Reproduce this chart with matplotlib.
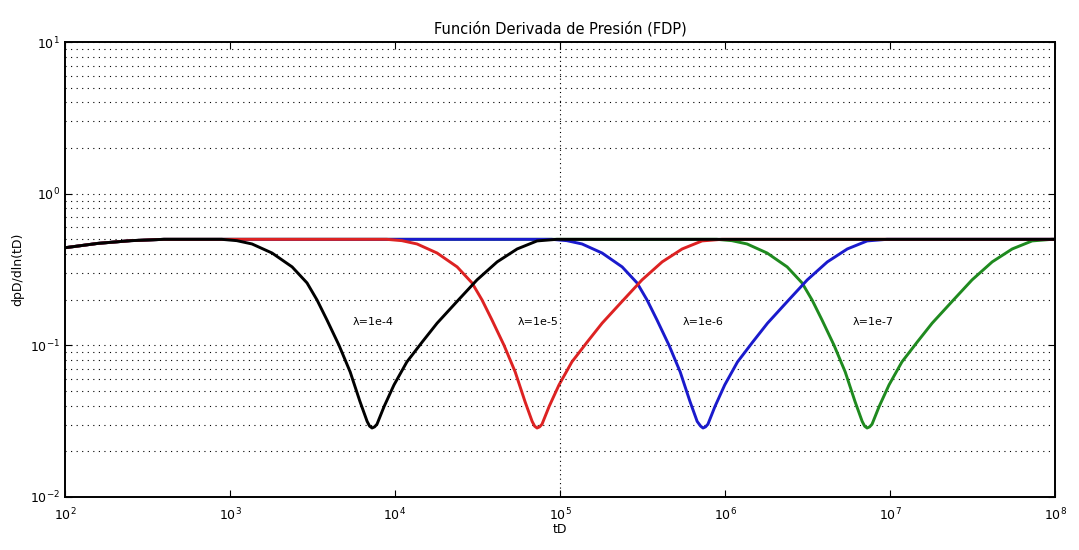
import numpy as np
import matplotlib
matplotlib.use('Agg')
import matplotlib.pyplot as plt


# values (tD, dpD/dln(tD)), one list pair per curve
td_black = [1.00e2, 1.58e2, 2.51e2, 3.98e2, 6.76e2, 8.91e2, 1.10e3, 1.36e3, 1.80e3, 2.38e3,
            2.93e3, 3.37e3, 3.87e3, 4.58e3, 5.35e3, 6.14e3, 6.78e3, 7.02e3, 7.26e3, 7.52e3,
            7.78e3, 8.59e3, 9.86e3, 1.18e4, 1.46e4, 1.80e4, 2.38e4, 3.14e4, 4.16e4, 5.50e4,
            7.26e4, 9.57e4, 1.0e8]
dp_black = [0.44, 0.47, 0.49, 0.50, 0.50, 0.50, 0.49, 0.466, 0.406, 0.329,
            0.258, 0.199, 0.147, 0.100, 0.0668, 0.0425, 0.0315, 0.0293, 0.0285, 0.0290,
            0.0302, 0.0395, 0.0548, 0.0777, 0.105, 0.140, 0.195, 0.270, 0.355, 0.432,
            0.488, 0.50, 0.50]

td_red = [1.00e2, 1.58e2, 2.51e2, 3.98e2, 6.76e3, 8.91e3, 1.10e4, 1.36e4, 1.80e4, 2.38e4,
          2.93e4, 3.37e4, 3.87e4, 4.58e4, 5.35e4, 6.14e4, 6.78e4, 7.02e4, 7.26e4, 7.52e4,
          7.78e4, 8.59e4, 9.86e4, 1.18e5, 1.46e5, 1.80e5, 2.38e5, 3.14e5, 4.16e5, 5.50e5,
          7.26e5, 9.57e5, 1.0e8]
dp_red = [0.44, 0.47, 0.49, 0.50, 0.50, 0.50, 0.49, 0.466, 0.406, 0.329,
          0.258, 0.199, 0.147, 0.100, 0.0668, 0.0425, 0.0315, 0.0293, 0.0285, 0.0290,
          0.0302, 0.0395, 0.0548, 0.0777, 0.105, 0.140, 0.195, 0.270, 0.355, 0.432,
          0.488, 0.50, 0.50]

td_blue = [1.00e2, 1.58e2, 2.51e2, 3.98e2, 6.76e4, 8.91e4, 1.10e5, 1.36e5, 1.80e5, 2.38e5,
           2.93e5, 3.37e5, 3.87e5, 4.58e5, 5.35e5, 6.14e5, 6.78e5, 7.12e5, 7.36e5, 7.62e5,
           7.88e5, 8.69e5, 9.96e5, 1.19e6, 1.47e6, 1.81e6, 2.39e6, 3.15e6, 4.17e6, 5.51e6,
           7.27e6, 9.58e6, 1.0e8]
dp_blue = [0.44, 0.47, 0.49, 0.50, 0.50, 0.50, 0.49, 0.466, 0.406, 0.329,
           0.258, 0.199, 0.147, 0.100, 0.0668, 0.0425, 0.0315, 0.0293, 0.0285, 0.0290,
           0.0302, 0.0395, 0.0548, 0.0777, 0.105, 0.140, 0.195, 0.270, 0.355, 0.432,
           0.488, 0.50, 0.50]

td_green = [1.00e2, 1.58e2, 2.51e2, 3.98e2, 6.76e5, 8.91e5, 1.10e6, 1.36e6, 1.80e6, 2.38e6,
            2.93e6, 3.37e6, 3.87e6, 4.58e6, 5.35e6, 6.14e6, 6.78e6, 7.02e6, 7.26e6, 7.52e6,
            7.78e6, 8.59e6, 9.86e6, 1.18e7, 1.46e7, 1.80e7, 2.38e7, 3.14e7, 4.16e7, 5.50e7,
            7.26e7, 9.57e7, 1.0e8]
dp_green = [0.44, 0.47, 0.49, 0.50, 0.50, 0.50, 0.49, 0.466, 0.406, 0.329,
            0.258, 0.199, 0.147, 0.100, 0.0668, 0.0425, 0.0315, 0.0293, 0.0285, 0.0290,
            0.0302, 0.0395, 0.0548, 0.0777, 0.105, 0.140, 0.195, 0.270, 0.355, 0.432,
            0.488, 0.50, 0.50]

labels = ['λ=1e-4', 'λ=1e-5', 'λ=1e-6', 'λ=1e-7']
label_x = [7.4e3, 7.4e4, 7.4e5, 7.9e6]
label_y = [0.143, 0.143, 0.143, 0.143]

x_ticks = [1e2, 1e3, 1e4, 1e5, 1e6, 1e7, 1e8]
x_ticklabels = ['$10^{2}$', '$10^{3}$', '$10^{4}$', '$10^{5}$', '$10^{6}$', '$10^{7}$', '$10^{8}$']
y_ticks = [1e-2, 1e-1, 1e0, 1e1]
y_ticklabels = ['$10^{-2}$', '$10^{-1}$', '$10^{0}$', '$10^{1}$']

fig = plt.figure(figsize=(10.79, 5.5), dpi=100)
ax = fig.add_axes([0.0602, 0.0964, 0.9176, 0.8272])

# green first, black last so black sits on top
ax.plot(td_green, dp_green, color='#1f8a1f', lw=2.1, solid_joinstyle='round')
ax.plot(td_blue, dp_blue, color='#1a1acc', lw=2.1, solid_joinstyle='round')
ax.plot(td_red, dp_red, color='#dd2222', lw=2.1, solid_joinstyle='round')
ax.plot(td_black, dp_black, color='black', lw=2.1, solid_joinstyle='round')

for lab, x, y in zip(labels, label_x, label_y):
    ax.text(x, y, lab, ha='center', va='center', fontsize=8)

ax.set_xscale('log')
ax.set_yscale('log')
ax.set_xlim(1e2, 1e8)
ax.set_ylim(1e-2, 1e1)

# fixed ticks only, so no hidden labels fall outside the figure
ax.set_xticks(x_ticks)
ax.set_xticklabels(x_ticklabels)
ax.set_yticks(y_ticks)
ax.set_yticklabels(y_ticklabels)
ax.yaxis.set_minor_locator(matplotlib.ticker.LogLocator(base=10, subs=np.arange(2, 10)))
ax.yaxis.set_minor_formatter(matplotlib.ticker.NullFormatter())
ax.xaxis.set_minor_locator(matplotlib.ticker.NullLocator())
ax.grid(True, which='both', axis='y', color='black', lw=0.8, ls=(0, (1, 4)))
ax.axvline(1e5, color='black', lw=0.8, ls=(0, (1, 3)))

ax.tick_params(which='major', direction='in', top=True, right=True, length=5, labelsize=9)
ax.tick_params(axis='x', which='major', pad=7)
ax.tick_params(which='minor', length=0)
for s in ax.spines.values():
    s.set_linewidth(1.4)

ax.set_title('Función Derivada de Presión (FDP)', fontsize=10.5, pad=6)
ax.set_xlabel('tD', fontsize=9, labelpad=0)
ax.set_ylabel('dpD/dln(tD)', fontsize=9, labelpad=4)

fig.savefig('out.png', dpi=100)
